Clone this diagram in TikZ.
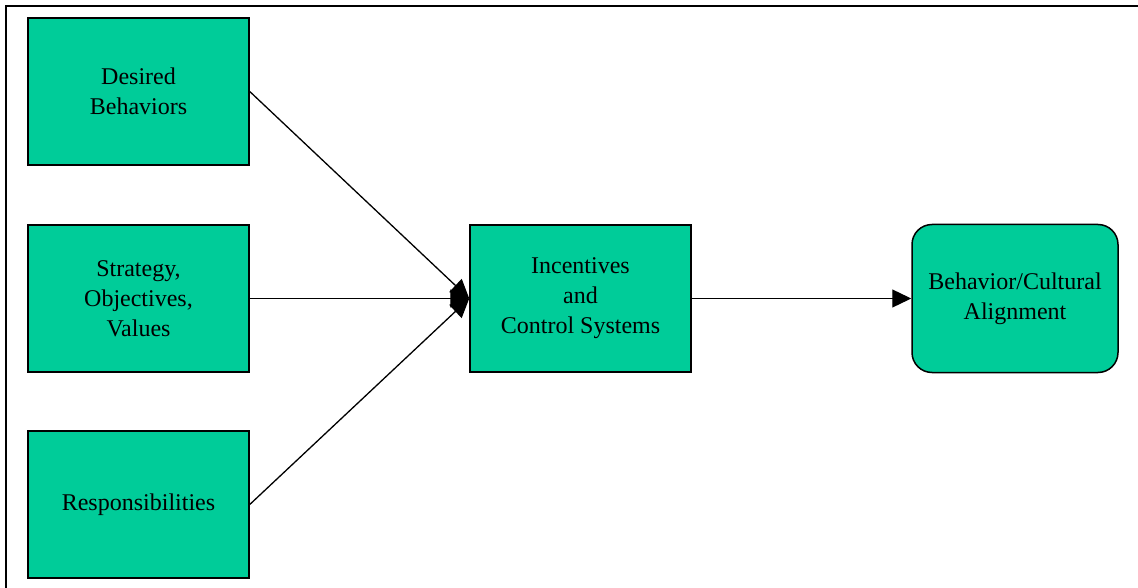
\documentclass[tikz,border=0pt]{standalone}
\usepackage{fontspec}
\setmainfont{Liberation Serif}
\usetikzlibrary{arrows.meta}
\definecolor{boxgreen}{HTML}{00CC99}
\begin{document}
\begin{tikzpicture}[x=1pt,y=-1pt,
  box/.style={draw=black,line width=1.5pt,fill=boxgreen,minimum width=221pt,minimum height=147pt,
    inner sep=0pt,align=center,font=\fontsize{24}{30}\selectfont},
  flow/.style={draw=black,line width=1.3pt,-{Triangle[length=19pt,width=18pt]}}]
  \useasboundingbox (0,0) rectangle (1138,588);
  % frame edges
  \draw[line width=2pt] (6,588) -- (6,6) -- (1138,6);
  % source boxes
  \node[box] (desired) at (138.5,91.5) {Desired\\Behaviors};
  \node[box] (strategy) at (138.5,298.5) {Strategy,\\Objectives,\\Values};
  \node[box] (resp) at (138.5,504.5) {Responsibilities};
  % central box
  \node[box] (incent) at (580.5,298.5) {Incentives\\and\\Control Systems};
  % outcome box
  \node[box,rounded corners=20pt,minimum width=206pt,minimum height=148pt] (align) at (1015,298.5) {Behavior/Cultural\\Alignment};
  % connectors
  \draw[flow] (desired.east) -- (incent.west);
  \draw[flow] (strategy.east) -- (incent.west);
  \draw[flow] (resp.east) -- (incent.west);
  \draw[flow] (incent.east) -- (align.west);
\end{tikzpicture}
\end{document}
